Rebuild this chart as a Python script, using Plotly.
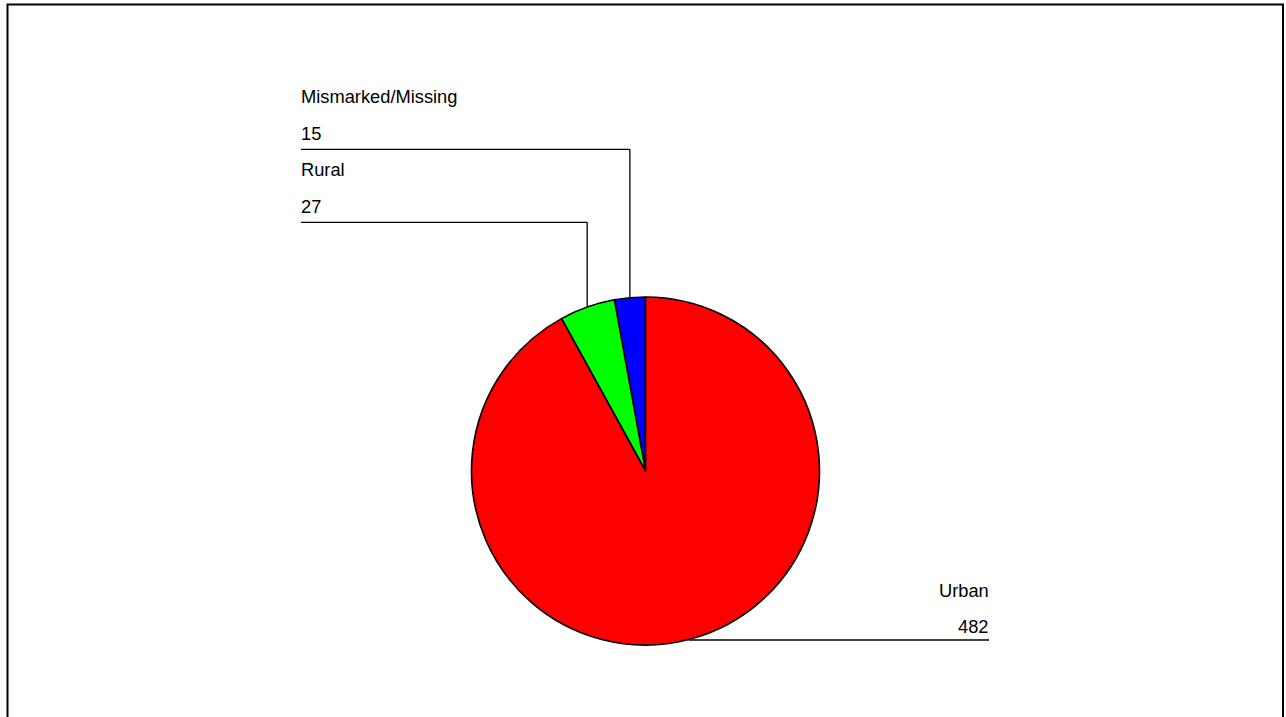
import math
import plotly.graph_objects as go

# ---- data ----
categories = ["Mismarked/Missing", "Rural", "Urban"]
values = [15, 27, 482]
colors = ["#0000FF", "#00FF00", "#FF0000"]

# ---- layout constants (pixels) ----
W, H = 1286, 717
CX, CY, R = 645.5, 471.0, 174.0
FONT = dict(family="Liberation Sans, Arial, sans-serif", size=18.3, color="black")

def px(x):
    return x / W

def py(y):
    return 1 - y / H

total = sum(values)
# plotly's counterclockwise pies end the first slice at `rotation`;
# shift so the first slice starts at 12 o'clock
rot = -values[0] / total * 360

fig = go.Figure(go.Pie(
    labels=categories,
    values=values,
    marker=dict(colors=colors, line=dict(color="black", width=1.6)),
    sort=False,
    direction="counterclockwise",
    rotation=rot,
    textinfo="none",
    hoverinfo="label+value",
    showlegend=False,
    domain=dict(x=[px(CX - R), px(CX + R)], y=[py(CY + R), py(CY - R)]),
))

# label placement: (label-line y, left x, right x, side)
label_layout = {
    "Mismarked/Missing": dict(line_y=149.3, x0=301, side="left"),
    "Rural": dict(line_y=222.3, x0=301, side="left"),
    "Urban": dict(line_y=640.0, x1=989, side="right"),
}

shapes = []
annotations = []
cum = 0.0
for cat, v in zip(categories, values):
    mid = (cum + v / 2) / total * 2 * math.pi
    cum += v
    # counterclockwise from 12 o'clock
    ex = CX - R * math.sin(mid)
    ey = CY - R * math.cos(mid)
    cfg = label_layout[cat]
    ly = cfg["line_y"]
    if cfg["side"] == "left":
        shapes.append(dict(type="line", xref="paper", yref="paper",
                           x0=px(ex), y0=py(ey), x1=px(ex), y1=py(ly),
                           line=dict(color="black", width=1.3)))
        shapes.append(dict(type="line", xref="paper", yref="paper",
                           x0=px(ex), y0=py(ly), x1=px(cfg["x0"]), y1=py(ly),
                           line=dict(color="black", width=1.3)))
        tx, anchor = px(cfg["x0"] - 2.5), "left"
    else:
        shapes.append(dict(type="line", xref="paper", yref="paper",
                           x0=px(ex), y0=py(ly), x1=px(cfg["x1"]), y1=py(ly),
                           line=dict(color="black", width=1.3)))
        tx, anchor = px(cfg["x1"] + 1.5), "right"
    annotations.append(dict(text=cat, x=tx, y=py(ly - 53 if cfg["side"] == "left" else ly - 50),
                            xref="paper", yref="paper", xanchor=anchor, yanchor="middle",
                            showarrow=False, font=FONT))
    annotations.append(dict(text=str(v), x=tx, y=py(ly - 16 if cfg["side"] == "left" else ly - 14),
                            xref="paper", yref="paper", xanchor=anchor, yanchor="middle",
                            showarrow=False, font=FONT))

# outer frame
shapes.append(dict(type="rect", xref="paper", yref="paper",
                   x0=px(7.5), y0=py(730), x1=px(1283), y1=py(4.5),
                   line=dict(color="black", width=2), fillcolor="rgba(0,0,0,0)"))

fig.update_layout(
    width=W, height=H,
    margin=dict(l=0, r=0, t=0, b=0),
    paper_bgcolor="white",
    plot_bgcolor="white",
    shapes=shapes,
    annotations=annotations,
)

fig.write_html("out.html",
               config={"displayModeBar": False},
               post_script="document.body.style.margin='0';document.body.style.overflow='hidden';")
